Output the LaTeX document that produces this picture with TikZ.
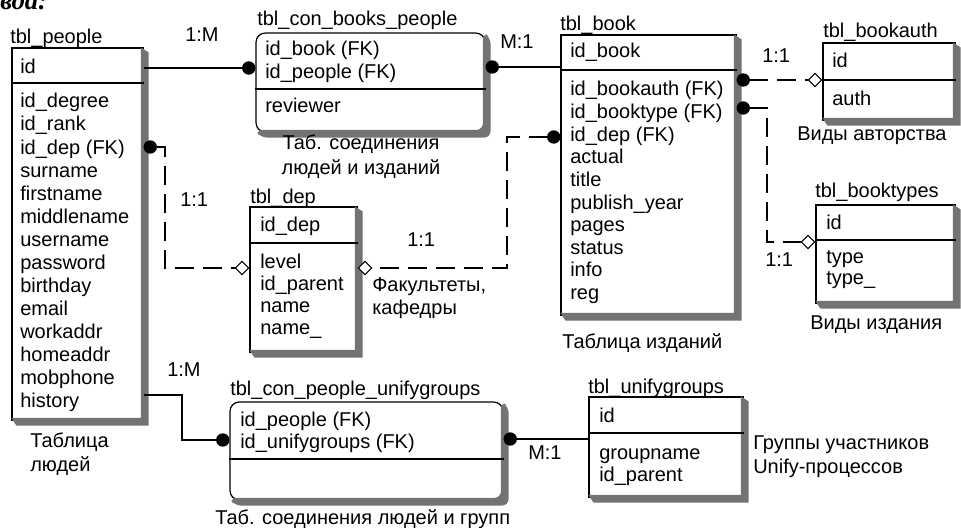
\documentclass[tikz,border=0pt]{standalone}
\usepackage{fontspec}
\setmainfont{Liberation Sans}
\newfontfamily\serifbi{Liberation Serif}
\usetikzlibrary{arrows.meta,fit}
\newcommand\tblrows[5]{%
  \foreach \t [count=\i] in {#5} \node[txt, name=#1\i] at (#2, {#3+(\i-1)*#4}) {\t};}
\newcommand\shadowof[2]{% #1 node name, #2 corner radius: shadow strips to the right and below
  \fill[shadowfill, rounded corners=#2] ([xshift=-2pt]#1.north east) -- ([xshift=3.75pt, yshift=-3.75pt]#1.north east) -- ([xshift=3.75pt, yshift=-3.75pt]#1.south east) -- ([xshift=3.75pt, yshift=-3.75pt]#1.south west) -- ([yshift=2pt]#1.south west) -- ([xshift=-2pt,yshift=2pt]#1.south east) -- cycle;}
\begin{document}
\begin{tikzpicture}[x=0.75pt,y=-0.75pt]
\tikzset{
  every node/.style={font=\fontsize{15}{17}\selectfont, inner sep=0pt},
  txt/.style={anchor=base west},
  ctxt/.style={anchor=base},
  tblbox/.style={draw, line width=0.9pt, fill=white, inner sep=0pt},
  roundbox/.style={tblbox, rounded corners=7pt},
  shadowfill/.style={fill=black!55},
  divider/.style={line width=0.9pt},
  conn/.style={line width=0.9pt},
  dconn/.style={line width=0.9pt, dash pattern=on 14pt off 7pt},
  dot/.tip={Circle[length=10pt]},
  dia/.tip={Diamond[fill=white, length=11pt, width=11pt, line width=0.8pt]}
}
\useasboundingbox (0,0) rectangle (961,528);
\fill[white] (0,0) rectangle (961,528);

\node[txt, font=\serifbi\bfseries\itshape\fontsize{20}{22}\selectfont] (toptext) at (0,10) {вда:};

% ---------- boxes ----------
\node[tblbox, fit={(12,48) (143,420)}] (people) {};
\node[roundbox, fit={(256,33) (485,132)}] (cbp) {};
\node[tblbox, fit={(561,35) (736,315)}] (book) {};
\node[tblbox, fit={(823,43) (955,120)}] (bookauth) {};
\node[tblbox, fit={(816,205) (955,303)}] (booktypes) {};
\node[tblbox, fit={(250,207) (357,352)}] (dep) {};
\node[roundbox, fit={(230,402) (503,500)}] (cpu) {};
\node[tblbox, fit={(589,397) (743,497)}] (unify) {};

% ---------- shadows (drawn after boxes, outside them) ----------
\shadowof{people}{0pt}
\shadowof{cbp}{5pt}
\shadowof{book}{0pt}
\shadowof{bookauth}{0pt}
\shadowof{booktypes}{0pt}
\shadowof{dep}{0pt}
\shadowof{cpu}{5pt}
\shadowof{unify}{0pt}

% dividers
\draw[divider] (people.west |- 0,83) -- (people.east |- 0,83);
\draw[divider] (cbp.west |- 0,89) -- (cbp.east |- 0,89);
\draw[divider] (book.west |- 0,70) -- (book.east |- 0,70);
\draw[divider] (bookauth.west |- 0,80) -- (bookauth.east |- 0,80);
\draw[divider] (booktypes.west |- 0,240) -- (booktypes.east |- 0,240);
\draw[divider] (dep.west |- 0,243) -- (dep.east |- 0,243);
\draw[divider] (cpu.west |- 0,459) -- (cpu.east |- 0,459);
\draw[divider] (unify.west |- 0,433) -- (unify.east |- 0,433);

% ---------- titles ----------
\node[txt] (t-people) at (10,44) {tbl\_people};
\node[txt] (t-cbp) at (257,26) {tbl\_con\_books\_people};
\node[txt] (t-book) at (560,31) {tbl\_book};
\node[txt] (t-bookauth) at (823,38) {tbl\_bookauth};
\node[txt] (t-booktypes) at (815,197) {tbl\_booktypes};
\node[txt] (t-dep) at (250,203) {tbl\_dep};
\node[txt] (t-cpu) at (230,395) {tbl\_con\_people\_unifygroups};
\node[txt] (t-unify) at (588,393) {tbl\_unifygroups};

% ---------- rows ----------
\node[txt] (people-k) at (20,74) {id};
\tblrows{people-r}{20}{108}{23}{{id\_degree},{id\_rank},{id\_dep (FK)},{surname},{firstname},{middlename},{username},{password},{birthday},{email},{workaddr},{homeaddr},{mobphone},{history}}
\tblrows{cbp-r}{265}{56}{23}{{id\_book (FK)},{id\_people (FK)}}
\node[txt] (cbp-x) at (265,113) {reviewer};
\node[txt] (book-k) at (570,58) {id\_book};
\tblrows{book-r}{570}{96}{22.6}{{id\_bookauth (FK)},{id\_booktype (FK)},{id\_dep (FK)},{actual},{title},{publish\_year},{pages},{status},{info},{reg}}
\node[txt] (dep-k) at (260,231) {id\_dep};
\tblrows{dep-r}{260}{268}{22}{{level},{id\_parent},{name},{name\_}}
\node[txt] (bookauth-k) at (832,68) {id};
\node[txt] (bookauth-r) at (832,106) {auth};
\node[txt] (booktypes-k) at (826,229) {id};
\tblrows{booktypes-r}{826}{263}{21}{{type},{type\_}}
\tblrows{cpu-r}{240}{426}{22}{{id\_people (FK)},{id\_unifygroups (FK)}}
\node[txt] (unify-k) at (599,422) {id};
\tblrows{unify-r}{599}{459}{22}{{groupname},{id\_parent}}

% ---------- captions ----------
\node[txt] (c-people1) at (30,447) {Таблица};
\node[txt] (c-people2) at (30,471) {людей};
\node[ctxt] (c-cbp1) at (361,149) {Таб. соединения};
\node[ctxt] (c-cbp2) at (361,174) {людей и изданий};
\node[txt] (c-dep1) at (372,291) {Факультеты,};
\node[txt] (c-dep2) at (372,314) {кафедры};
\node[txt] (c-book) at (562,348) {Таблица изданий};
\node[txt] (c-bookauth) at (797,141) {Виды авторства};
\node[txt] (c-booktypes) at (810,329) {Виды издания};
\node[txt] (c-unify1) at (753,449) {Группы участников};
\node[txt] (c-unify2) at (753,473) {Unify-процессов};
\node[txt] (c-cpu) at (215,524) {Таб. соединения людей и групп};

% ---------- connectors ----------
\draw[conn, -dot] (people.east |- 0,68) -- (cbp.west |- 0,68);
\draw[conn, dot-] (cbp.east |- 0,67) -- (book.west |- 0,67);
\draw[dconn, dot-dia] (people.east |- 0,147) -- (165,147) -- (165,268) -- (dep.west |- 0,268);
\draw[dconn, dot-dia] (book.west |- 0,137) -- (507,137) -- (507,268) -- (dep.east |- 0,268);
\draw[dconn, dot-dia] (book.east |- 0,80) -- (bookauth.west |- 0,80);
\draw[dconn, dot-dia] (book.east |- 0,108) -- (767,108) -- (767,242) -- (booktypes.west |- 0,242);
\draw[conn, -dot] (people.east |- 0,395) -- (182,395) -- (182,440) -- (cpu.west |- 0,440);
\draw[conn, dot-] (cpu.east |- 0,439) -- (unify.west |- 0,439);

% ---------- cardinalities ----------
\node[txt] (m1) at (185,42) {1:M};
\node[txt] (m2) at (500,49) {M:1};
\node[txt] (m3) at (180,206) {1:1};
\node[txt] (m4) at (407,246) {1:1};
\node[txt] (m5) at (762,63) {1:1};
\node[txt] (m6) at (765,266) {1:1};
\node[txt] (m7) at (167,376) {1:M};
\node[txt] (m8) at (528,459) {M:1};
\end{tikzpicture}
\end{document}
